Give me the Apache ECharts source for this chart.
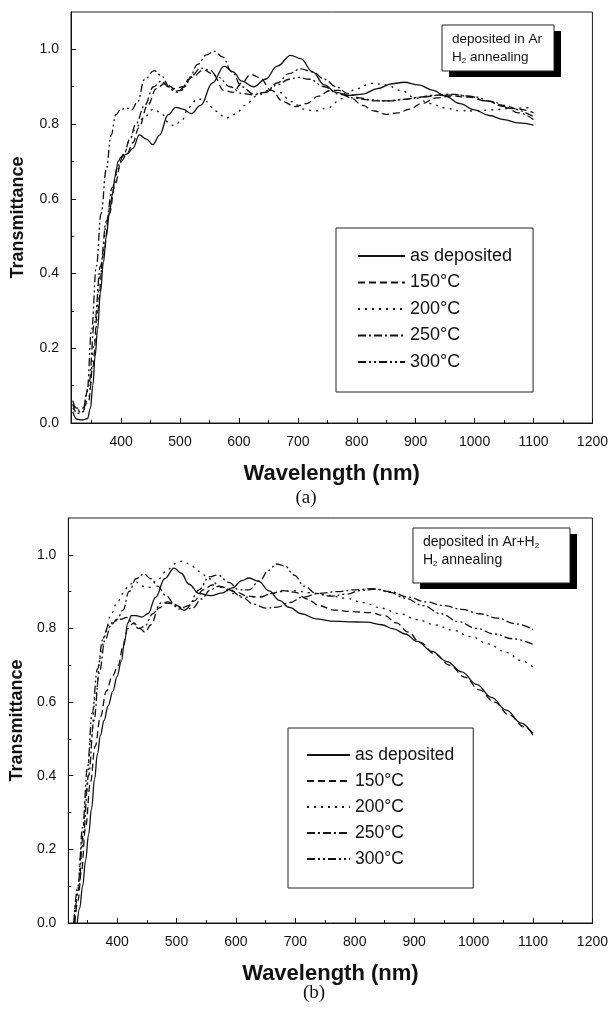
<!DOCTYPE html>
<html lang="en">
<head>
<meta charset="UTF-8">
<title>Transmittance</title>
<script src="https://cdn.jsdelivr.net/npm/echarts@6/dist/echarts.min.js"></script>
<style>
    html, body { margin: 0; padding: 0; background: #fff; }
    #chart { width: 611px; height: 1011px; }
</style>
</head>
<body>
<div id="chart"></div>
<script>
// legend names, shared by both panels
var names = ['as deposited', '150°C', '200°C', '250°C', '300°C'];

// tick labels
var xTicks = [400, 500, 600, 700, 800, 900, 1000, 1100, 1200];
var xMinorTicks = [350, 450, 550, 650, 750, 850, 950, 1050, 1150];
var yTicks = [0, 0.2, 0.4, 0.6, 0.8, 1.0];
var yMinorTicks = [0.1, 0.3, 0.5, 0.7, 0.9];

// (a) deposited in Ar, [wavelength nm, transmittance]
var aAsDep = [[318,0.03],[325,0.01],[335,0.008],[343,0.012],[348,0.04],[352,0.1],[356,0.18],[360,0.25],[365,0.35],[370,0.43],[375,0.5],[380,0.56],[385,0.61],[390,0.66],[395,0.7],[400,0.712],[410,0.72],[420,0.735],[431,0.771],[443,0.76],[454,0.745],[465,0.77],[480,0.825],[493,0.845],[505,0.84],[519,0.828],[535,0.85],[555,0.91],[575,0.955],[590,0.94],[605,0.915],[625,0.9],[645,0.92],[665,0.955],[688,0.984],[705,0.975],[725,0.94],[745,0.905],[765,0.885],[787,0.877],[810,0.88],[835,0.895],[860,0.908],[880,0.912],[905,0.905],[930,0.89],[950,0.875],[975,0.855],[1000,0.838],[1025,0.823],[1050,0.812],[1075,0.803],[1100,0.797]];
var a150 = [[318,0.05],[325,0.04],[335,0.04],[345,0.06],[352,0.15],[360,0.3],[370,0.45],[380,0.56],[390,0.64],[400,0.7],[410,0.72],[420,0.75],[430,0.79],[445,0.85],[460,0.895],[475,0.91],[490,0.895],[505,0.9],[520,0.925],[540,0.945],[555,0.935],[575,0.89],[590,0.885],[605,0.91],[620,0.933],[635,0.925],[655,0.89],[675,0.86],[695,0.847],[715,0.855],[735,0.875],[755,0.89],[770,0.89],[790,0.87],[810,0.85],[830,0.835],[850,0.826],[870,0.83],[890,0.84],[910,0.855],[935,0.87],[960,0.875],[990,0.872],[1020,0.862],[1050,0.85],[1075,0.84],[1100,0.83]];
var a200 = [[318,0.04],[325,0.03],[335,0.03],[345,0.07],[355,0.22],[365,0.4],[375,0.53],[385,0.62],[395,0.68],[405,0.72],[415,0.76],[425,0.79],[440,0.82],[455,0.84],[468,0.83],[480,0.805],[490,0.795],[503,0.81],[515,0.845],[530,0.868],[545,0.86],[560,0.835],[578,0.816],[595,0.827],[610,0.85],[630,0.875],[650,0.89],[668,0.885],[690,0.86],[710,0.84],[730,0.835],[750,0.843],[775,0.868],[800,0.895],[825,0.909],[850,0.905],[875,0.89],[900,0.87],[925,0.855],[950,0.843],[975,0.836],[1000,0.835],[1030,0.838],[1060,0.842],[1100,0.845]];
var a250 = [[318,0.06],[325,0.035],[335,0.03],[345,0.1],[355,0.27],[365,0.42],[375,0.54],[385,0.63],[395,0.69],[405,0.72],[415,0.76],[425,0.8],[440,0.85],[455,0.9],[468,0.915],[480,0.9],[490,0.888],[502,0.89],[515,0.92],[530,0.96],[545,0.985],[558,0.995],[572,0.98],[588,0.94],[605,0.9],[625,0.88],[645,0.885],[665,0.91],[685,0.935],[705,0.948],[725,0.94],[745,0.92],[765,0.9],[785,0.882],[805,0.87],[830,0.862],[855,0.862],[880,0.866],[905,0.872],[930,0.877],[960,0.88],[990,0.875],[1020,0.862],[1050,0.847],[1075,0.83],[1100,0.812]];
var a300 = [[318,0.05],[325,0.025],[335,0.03],[342,0.08],[350,0.25],[358,0.42],[366,0.56],[375,0.68],[383,0.77],[391,0.825],[400,0.84],[410,0.843],[418,0.838],[428,0.86],[440,0.92],[456,0.943],[468,0.93],[482,0.9],[495,0.885],[508,0.9],[520,0.93],[535,0.95],[550,0.945],[565,0.925],[585,0.9],[605,0.882],[625,0.878],[645,0.885],[665,0.905],[685,0.92],[700,0.925],[720,0.92],[745,0.9],[770,0.88],[795,0.87],[820,0.865],[850,0.862],[880,0.866],[910,0.872],[940,0.877],[970,0.878],[1000,0.873],[1030,0.86],[1060,0.842],[1100,0.82]];

// (b) deposited in Ar+H2
var bAsDep = [[333,0],[337,0.04],[342,0.1],[347,0.17],[352,0.24],[357,0.31],[362,0.39],[367,0.46],[372,0.51],[378,0.55],[385,0.59],[393,0.63],[400,0.67],[407,0.71],[413,0.77],[418,0.815],[424,0.835],[432,0.835],[442,0.831],[452,0.84],[465,0.885],[480,0.935],[496,0.964],[508,0.95],[521,0.92],[538,0.895],[558,0.889],[576,0.896],[594,0.91],[610,0.93],[622,0.937],[638,0.928],[656,0.902],[673,0.876],[690,0.857],[710,0.84],[735,0.826],[760,0.82],[790,0.818],[820,0.817],[845,0.81],[865,0.799],[885,0.785],[905,0.765],[930,0.738],[955,0.71],[980,0.682],[1005,0.648],[1030,0.613],[1055,0.578],[1080,0.543],[1100,0.51]];
var b150 = [[329,0],[334,0.06],[340,0.14],[347,0.26],[355,0.38],[363,0.48],[372,0.56],[382,0.63],[392,0.67],[402,0.7],[410,0.75],[418,0.8],[428,0.815],[438,0.8],[447,0.79],[457,0.81],[470,0.855],[485,0.872],[500,0.862],[515,0.852],[530,0.875],[545,0.905],[560,0.918],[578,0.912],[598,0.9],[620,0.888],[640,0.885],[660,0.895],[680,0.903],[700,0.898],[720,0.88],[740,0.862],[765,0.85],[795,0.846],[825,0.843],[850,0.835],[870,0.815],[890,0.79],[910,0.762],[935,0.73],[960,0.7],[985,0.668],[1010,0.633],[1035,0.6],[1060,0.565],[1085,0.533],[1100,0.515]];
var b200 = [[327,0],[333,0.08],[340,0.2],[348,0.35],[356,0.5],[364,0.62],[372,0.72],[380,0.79],[390,0.84],[400,0.87],[410,0.895],[420,0.918],[430,0.928],[442,0.915],[455,0.912],[470,0.935],[485,0.96],[500,0.978],[510,0.983],[522,0.975],[538,0.955],[555,0.935],[575,0.912],[595,0.895],[615,0.885],[635,0.885],[655,0.892],[675,0.9],[700,0.902],[725,0.897],[755,0.89],[785,0.882],[815,0.87],[845,0.855],[875,0.84],[905,0.824],[935,0.81],[965,0.795],[995,0.778],[1025,0.758],[1055,0.735],[1080,0.713],[1100,0.695]];
var b250 = [[328,0],[335,0.09],[343,0.24],[352,0.4],[361,0.55],[370,0.68],[380,0.77],[390,0.81],[400,0.825],[410,0.85],[420,0.9],[432,0.935],[445,0.948],[457,0.935],[468,0.915],[482,0.89],[497,0.865],[512,0.85],[527,0.855],[542,0.88],[557,0.905],[572,0.915],[590,0.905],[610,0.885],[630,0.866],[650,0.855],[670,0.858],[690,0.87],[712,0.885],[740,0.895],[770,0.9],[800,0.905],[830,0.908],[860,0.9],[890,0.885],[920,0.872],[950,0.862],[980,0.852],[1010,0.84],[1040,0.828],[1070,0.813],[1100,0.797]];
var b300 = [[327,0],[334,0.1],[342,0.26],[350,0.42],[358,0.57],[367,0.69],[376,0.77],[386,0.81],[396,0.82],[406,0.825],[416,0.83],[426,0.815],[436,0.8],[446,0.805],[460,0.84],[475,0.87],[490,0.868],[505,0.853],[520,0.862],[538,0.905],[555,0.94],[570,0.945],[588,0.925],[605,0.905],[622,0.905],[640,0.93],[655,0.958],[668,0.975],[682,0.97],[698,0.945],[715,0.915],[735,0.895],[760,0.888],[785,0.893],[810,0.903],[835,0.907],[860,0.898],[885,0.882],[915,0.862],[945,0.84],[975,0.818],[1005,0.8],[1035,0.785],[1065,0.772],[1100,0.757]];

var panelA = [aAsDep, a150, a200, a250, a300];
var panelB = [bAsDep, b150, b200, b250, b300];
var dashes = ['solid', [7, 4], [2, 5], [8, 3, 2, 3], [8, 3, 2, 3, 2, 3]];

var font = '"Liberation Sans", Arial, sans-serif';
var ink = '#111';

function mainX(grid, min, name) {
    return {
        gridIndex: grid, type: 'value', position: 'bottom', min: min, max: 1200,
        name: name, nameLocation: 'middle', nameGap: 40,
        nameTextStyle: {fontFamily: font, fontWeight: 'bold', fontSize: 22, color: ink},
        axisLine: {lineStyle: {color: ink, width: 1}},
        axisTick: {inside: true, length: 5, customValues: xTicks, lineStyle: {color: ink}},
        axisLabel: {customValues: xTicks, margin: 12, fontFamily: font, fontSize: 14, color: ink,
            formatter: function (v) { return String(v); }},
        splitLine: {show: false}
    };
}
function minorX(grid, min) {
    return {
        gridIndex: grid, type: 'value', position: 'bottom', min: min, max: 1200,
        axisLine: {show: false},
        axisTick: {inside: true, length: 3, customValues: xMinorTicks, lineStyle: {color: ink}},
        axisLabel: {show: false},
        splitLine: {show: false}
    };
}
function mainY(grid, gap) {
    return {
        gridIndex: grid, type: 'value', position: 'left', min: 0, max: 1.1,
        name: 'Transmittance', nameLocation: 'middle', nameGap: gap,
        nameTextStyle: {fontFamily: font, fontWeight: 'bold', fontSize: 18, color: ink},
        axisLine: {show: true, lineStyle: {color: ink, width: 1}},
        axisTick: {show: true, inside: true, length: 5, customValues: yTicks, lineStyle: {color: ink}},
        axisLabel: {customValues: yTicks, margin: 12, fontFamily: font, fontSize: 14, color: ink,
            formatter: function (v) { return v.toFixed(1); }},
        splitLine: {show: false}
    };
}
function minorY(grid) {
    return {
        gridIndex: grid, type: 'value', position: 'left', min: 0, max: 1.1,
        axisLine: {show: false},
        axisTick: {show: true, inside: true, length: 3, customValues: yMinorTicks, lineStyle: {color: ink}},
        axisLabel: {show: false},
        splitLine: {show: false}
    };
}

var series = [];
function addPanel(list, xi, yi) {
    list.forEach(function (d, i) {
        series.push({
            name: names[i], type: 'line', data: d,
            xAxisIndex: xi, yAxisIndex: yi,
            symbol: 'none', showSymbol: false,
            smooth: 0.4, smoothMonotone: 'x',
            lineStyle: {color: ink, width: 1.3, type: dashes[i]},
            itemStyle: {color: ink},
            emphasis: {disabled: true}
        });
    });
}
addPanel(panelA, 0, 0);
addPanel(panelB, 2, 2);

function legendBox(left, top, fs, iw, gap, pad) {
    return {
        data: names, orient: 'vertical', left: left, top: top,
        selectedMode: false, itemWidth: iw, itemHeight: 12, itemGap: gap,
        padding: pad, borderColor: '#222', borderWidth: 1,
        itemStyle: {opacity: 0},
        textStyle: {fontFamily: font, fontSize: fs, color: ink}
    };
}

function note(x, y, w, h, line1, fs) {
    var rich = {s: {fontSize: Math.round(fs * 0.6), fontFamily: font, fill: ink, padding: [fs * 0.55, 0, 0, 0]}};
    return [
        {type: 'rect', shape: {x: x + 7, y: y + 6, width: w, height: h}, style: {fill: '#000'}},
        {type: 'rect', shape: {x: x, y: y, width: w, height: h}, style: {fill: '#fff', stroke: '#222', lineWidth: 1}},
        {type: 'text', x: x + 10, y: y + 14, style: {text: line1, font: fs + 'px ' + font, fill: ink, verticalAlign: 'middle', rich: rich}},
        {type: 'text', x: x + 10, y: y + 32, style: {text: 'H{s|2} annealing', font: fs + 'px ' + font, fill: ink, verticalAlign: 'middle', rich: rich}}
    ];
}

var chart = echarts.init(document.getElementById('chart'), null, {renderer: 'canvas'});
chart.setOption({
    animation: false,
    backgroundColor: '#fff',
    grid: [
        {left: 71, top: 12, width: 523, height: 411, show: true, borderColor: '#222', borderWidth: 1},
        {left: 67.5, top: 518, width: 526.5, height: 405, show: true, borderColor: '#222', borderWidth: 1}
    ],
    xAxis: [mainX(0, 315, 'Wavelength (nm)'), minorX(0, 315), mainX(1, 318, 'Wavelength (nm)'), minorX(1, 318)],
    yAxis: [mainY(0, 44), minorY(0), mainY(1, 40), minorY(1)],
    legend: [
        legendBox(336, 228, 18, 47, 8.5, [19, 21, 21, 21]),
        legendBox(288, 728, 17.5, 43, 8, [18, 19, 20, 18])
    ],
    graphic: [].concat(
        note(442, 25, 112, 46, 'deposited in Ar', 13.5),
        note(413, 528, 157, 55, 'deposited in Ar+H{s|2}', 14),
        [
            {type: 'text', x: 306, y: 498, style: {text: '(a)', font: '19px "Liberation Serif", serif', fill: ink, align: 'center', verticalAlign: 'middle'}},
            {type: 'text', x: 314, y: 993, style: {text: '(b)', font: '19px "Liberation Serif", serif', fill: ink, align: 'center', verticalAlign: 'middle'}}
        ]
    ),
    series: series
});
</script>
</body>
</html>
